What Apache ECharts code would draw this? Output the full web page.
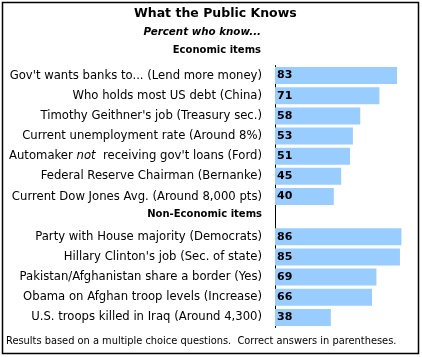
<!DOCTYPE html>
<html>
<head>
<meta charset="utf-8">
<script src="https://cdn.jsdelivr.net/npm/echarts@6/dist/echarts.min.js"></script>
<style>
html,body{margin:0;padding:0;background:#fff;}
#chart{width:422px;height:357px;}
</style>
</head>
<body>
<div id="chart"></div>
<script>
const chartTitle = "What the Public Knows";
const subTitle = "Percent who know...";
const sectionHeaders = ["Economic items", "Non-Economic items"];
const footnote = "Results based on a multiple choice questions.  Correct answers in parentheses.";

const economicItems = [
  "Gov't wants banks to... (Lend more money)",
  "Who holds most US debt (China)",
  "Timothy Geithner's job (Treasury sec.)",
  "Current unemployment rate (Around 8%)",
  "Automaker not receiving gov't loans (Ford)",
  "Federal Reserve Chairman (Bernanke)",
  "Current Dow Jones Avg. (Around 8,000 pts)"
];
const economicValues = [83, 71, 58, 53, 51, 45, 40];

const nonEconomicItems = [
  "Party with House majority (Democrats)",
  "Hillary Clinton's job (Sec. of state)",
  "Pakistan/Afghanistan share a border (Yes)",
  "Obama on Afghan troop levels (Increase)",
  "U.S. troops killed in Iraq (Around 4,300)"
];
const nonEconomicValues = [86, 85, 69, 66, 38];

const categories = economicItems.concat([sectionHeaders[1]], nonEconomicItems);
const values = economicValues.concat(['-'], nonEconomicValues);

const FONT = "'DejaVu Sans', Verdana, sans-serif";
const LABEL_SIZE = 11.65;

const chart = echarts.init(document.getElementById('chart'), null, {renderer: 'canvas'});
chart.setOption({
  animation: false,
  backgroundColor: '#fff',
  title: [
    {text: chartTitle, left: 134, top: 7, padding: 0,
     textStyle: {fontFamily: FONT, fontSize: 12.5, fontWeight: 'bold', color: '#000'}},
    {text: subTitle, right: 161, top: 27, padding: 0,
     textStyle: {fontFamily: FONT, fontSize: 10.3, fontWeight: 'bold', fontStyle: 'italic', color: '#000'}},
    {text: sectionHeaders[0], right: 161, top: 45, padding: 0,
     textStyle: {fontFamily: FONT, fontSize: 10, fontWeight: 'bold', color: '#000'}},
    {text: footnote, left: 6, top: 336.5, padding: 0,
     textStyle: {fontFamily: FONT, fontSize: 9.85, fontWeight: 'normal', color: '#000'}}
  ],
  graphic: [
    {type: 'rect', shape: {x: 2.5, y: 2.5, width: 416, height: 351},
     style: {fill: 'none', stroke: '#000', lineWidth: 1.5}, silent: true, z: 100}
  ],
  grid: {left: 275, top: 65.5, width: 148, height: 262, containLabel: false},
  xAxis: {type: 'value', min: 0, max: 100, show: false},
  yAxis: {
    type: 'category', data: categories, inverse: true,
    axisLine: {show: true, lineStyle: {color: '#000', width: 1}},
    axisTick: {show: false},
    axisLabel: {
      margin: 13, fontFamily: FONT, fontSize: LABEL_SIZE, color: '#000',
      formatter: function (v) {
        if (v === sectionHeaders[1]) return '{h|' + v + '}';
        if (v.indexOf(' not ') >= 0) {
          const p = v.split(' not ');
          return '{a|' + p[0] + ' }{i|not}{a|  ' + p[1] + '}';
        }
        return '{a|' + v + '}';
      },
      rich: {
        a: {fontFamily: FONT, fontSize: LABEL_SIZE, color: '#000'},
        i: {fontFamily: FONT, fontSize: LABEL_SIZE, fontStyle: 'italic', color: '#000'},
        h: {fontFamily: FONT, fontSize: 10, fontWeight: 'bold', color: '#000', padding: [0, 0, 4, 0]}
      }
    }
  },
  series: [{
    type: 'bar', data: values, barWidth: 17,
    itemStyle: {color: '#99CCFF'},
    label: {show: true, position: 'insideLeft', distance: 2,
      fontFamily: FONT, fontSize: 11, fontWeight: 'bold', color: '#000'}
  }]
});
</script>
</body>
</html>
